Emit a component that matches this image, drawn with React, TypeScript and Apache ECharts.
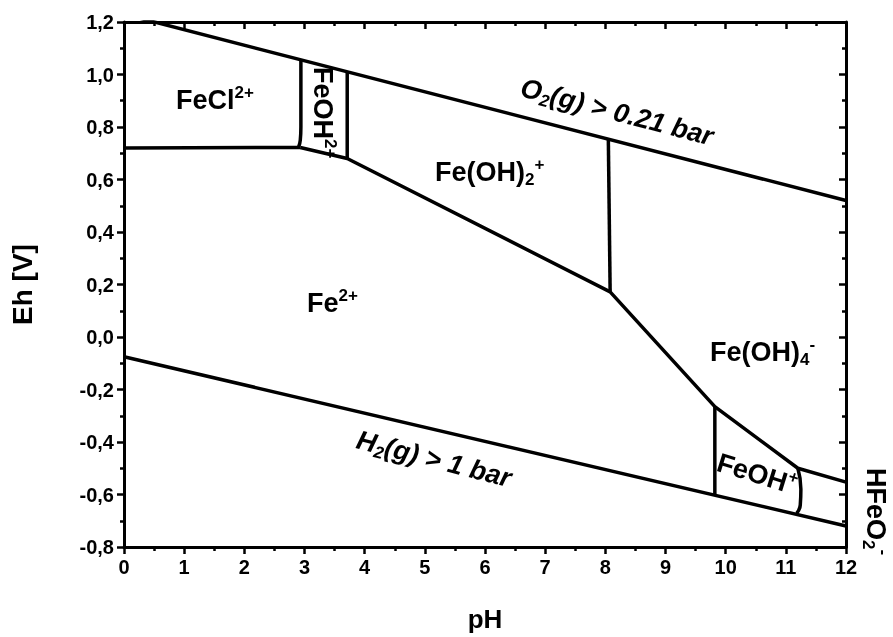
import React, { useEffect, useRef } from "react";
import * as echarts from "echarts";

// Boundary lines of the Pourbaix diagram: [pH, Eh]
const o2Line = [[0, 1.23], [12, 0.52]];
const h2Line = [[0, -0.075], [12, -0.72]];
const feClFe2Line = [[0, 0.72], [2.93, 0.722]];
const feClFeOHLine = [[2.94, 1.056], [2.94, 0.8], [2.93, 0.75], [2.9, 0.722]];
const fe3Fe2Line = [[2.93, 0.722], [3.71, 0.68], [8.08, 0.172], [9.82, -0.265], [11.2, -0.5], [12, -0.553]];
const feOHFeOH2Line = [[3.71, 1.01], [3.71, 0.68]];
const feOH2FeOH4Line = [[8.05, 0.752], [8.08, 0.172]];
const feOHLeftLine = [[9.82, -0.265], [9.82, -0.6]];
const feOHRightLine = [[11.2, -0.5], [11.25, -0.58], [11.24, -0.64], [11.18, -0.672]];

const boundaries = [o2Line, h2Line, feClFe2Line, feClFeOHLine, fe3Fe2Line, feOHFeOH2Line, feOH2FeOH4Line, feOHLeftLine, feOHRightLine];
const smoothFlags = [false, false, false, true, false, false, false, false, true];

const xTicks = { min: 0, max: 12, interval: 1 };
const yTicks = { min: -0.8, max: 1.2, interval: 0.2 };

const FONT = "Liberation Sans, Arial, sans-serif";

export default function App() {
  const ref = useRef<HTMLDivElement>(null);
  useEffect(() => {
    if (!ref.current) return;
    const chart = echarts.init(ref.current, undefined, { renderer: "svg" });
    const black = "#000";
    const lblSize = 27;
    const smallSize = 17;
    const rich = {
      m: { fontSize: lblSize, fontWeight: "bold", fontFamily: FONT, color: black, lineHeight: 32 },
      mi: { fontSize: lblSize, fontWeight: "bold", fontStyle: "italic", fontFamily: FONT, color: black, lineHeight: 32 },
      sup: { fontSize: smallSize, fontWeight: "bold", fontFamily: FONT, color: black, lineHeight: 17, verticalAlign: "top" },
      sub: { fontSize: smallSize, fontWeight: "bold", fontFamily: FONT, color: black, lineHeight: 17, verticalAlign: "bottom" },
      subi: { fontSize: smallSize, fontWeight: "bold", fontStyle: "italic", fontFamily: FONT, color: black, lineHeight: 17, verticalAlign: "bottom" },
    };
    const label = (text: string, x: number, y: number, rotation = 0, align = "left") => ({
      type: "text",
      x,
      y,
      rotation,
      z: 100,
      style: { text, rich, align, verticalAlign: "middle", fill: black },
    });
    const tickFmt = (v: number) => (Math.abs(v) < 1e-9 ? 0 : v).toFixed(1).replace(".", ",");
    const axisCommon = {
      axisLine: { show: true, onZero: false, lineStyle: { color: black, width: 3 } },
      axisTick: { show: true, length: 7, lineStyle: { color: black, width: 2.5 } },
      minorTick: { show: true, splitNumber: 2, length: 4, lineStyle: { color: black, width: 2.5 } },
      splitLine: { show: false },
    };
    chart.setOption({
      animation: false,
      grid: { left: 124, right: 47, top: 22, bottom: 88, containLabel: false },
      xAxis: [
        {
          type: "value",
          ...xTicks,
          ...axisCommon,
          position: "bottom",
          axisLabel: { fontSize: 20, fontWeight: "bold", fontFamily: FONT, color: black, margin: 10 },
          name: "pH",
          nameLocation: "middle",
          nameGap: 59,
          nameTextStyle: { fontSize: 26, fontWeight: "bold", fontFamily: FONT, color: black },
        },
        {
          type: "value",
          ...xTicks,
          ...axisCommon,
          position: "top",
          axisTick: { ...axisCommon.axisTick, inside: true },
          axisLabel: { show: false },
        },
      ],
      yAxis: [
        {
          type: "value",
          ...yTicks,
          ...axisCommon,
          position: "left",
          axisLabel: { fontSize: 20, fontWeight: "bold", fontFamily: FONT, color: black, margin: 10, formatter: tickFmt },
          name: "Eh [V]",
          nameLocation: "middle",
          nameGap: 88,
          nameTextStyle: { fontSize: 28, fontWeight: "bold", fontFamily: FONT, color: black },
        },
        {
          type: "value",
          ...yTicks,
          ...axisCommon,
          position: "right",
          axisTick: { ...axisCommon.axisTick, inside: true },
          axisLabel: { show: false },
        },
      ],
      series: boundaries.map((d, i) => ({
        type: "line",
        data: d,
        xAxisIndex: 0,
        yAxisIndex: 0,
        symbol: "none",
        smooth: smoothFlags[i],
        clip: true,
        lineStyle: { color: black, width: 3.5 },
        silent: true,
      })),
      graphic: [
        label("{m|FeCl}{sup|2+}", 176, 100),
        label("{m|FeOH}{sup|2+}", 323, 67, -Math.PI / 2),
        label("{m|Fe(OH)}{sub|2}{sup|+}", 435, 172),
        label("{m|Fe}{sup|2+}", 307, 303),
        label("{m|Fe(OH)}{sub|4}{sup|-}", 710, 352),
        label("{mi|O}{subi|2}{mi|(g) > 0.21 bar}", 617, 112, -0.255, "center"),
        label("{mi|H}{subi|2}{mi|(g) > 1 bar}", 434, 459, -0.25, "center"),
        label("{m|FeOH}{sup|+}", 757, 474, -0.3, "center"),
        label("{m|HFeO}{sub|2}{sup|-}", 876, 468, -Math.PI / 2),
      ],
    });
    return () => chart.dispose();
  }, []);
  return <div ref={ref} style={{ position: "fixed", left: 0, top: 0, width: 893, height: 637 }} />;
}
